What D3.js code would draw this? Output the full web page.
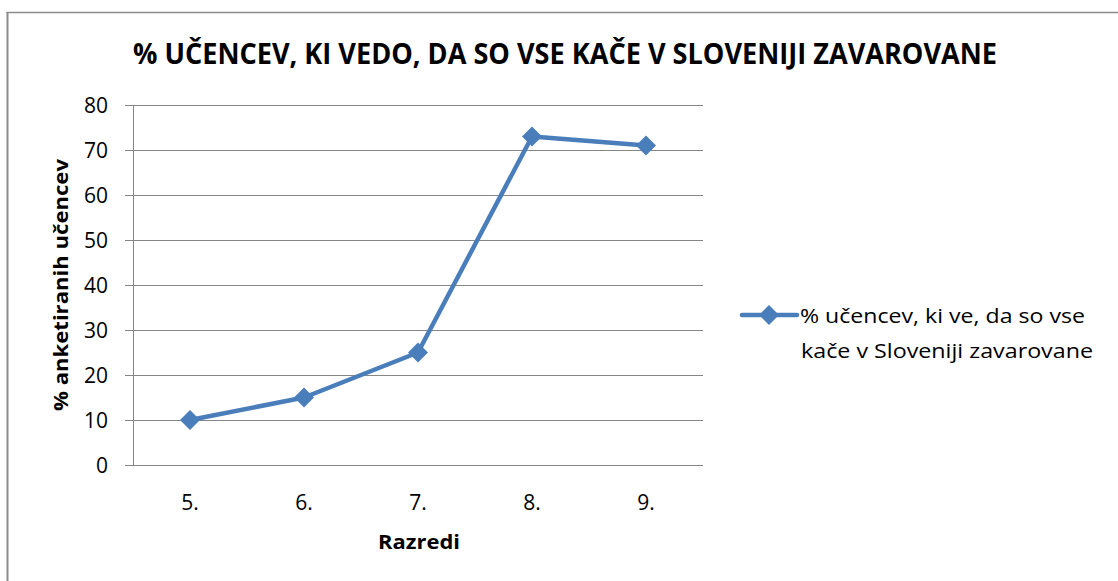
<!DOCTYPE html>
<html><head><meta charset="utf-8">
<script src="https://cdn.jsdelivr.net/npm/d3@7"></script>
<style>body{margin:0;background:#fff}svg{display:block}text{font-family:"Open Sans","Noto Sans",sans-serif}</style>
</head><body>
<script>
const categories = ["5.", "6.", "7.", "8.", "9."];
const values = [10, 15, 25, 73, 71];
const yTicks = [0, 10, 20, 30, 40, 50, 60, 70, 80];
const seriesName = ["% učencev, ki ve, da so vse", "kače v Sloveniji zavarovane"];
const title = "% UČENCEV, KI VEDO, DA SO VSE KAČE V SLOVENIJI ZAVAROVANE";
const xTitle = "Razredi";
const yTitle = "% anketiranih učencev";

const W = 1118, H = 581;
const svg = d3.select("body").append("svg").attr("width", W).attr("height", H);
const blue = "#4a7ebb", grid = "#868686";

// chart frame (left + top visible)
svg.append("line").attr("x1", 7.5).attr("x2", 7.5).attr("y1", 12).attr("y2", H)
  .attr("stroke", "#8c8c8c").attr("stroke-width", 2);
svg.append("line").attr("x1", 6.5).attr("x2", W).attr("y1", 12.5).attr("y2", 12.5)
  .attr("stroke", "#8c8c8c").attr("stroke-width", 1.5);

const x = d3.scalePoint().domain(categories).range([133, 703]).padding(0.5);
const y = d3.scaleLinear().domain([0, 80]).range([465, 105]);

// gridlines
svg.append("g").selectAll("line").data(yTicks).join("line")
  .attr("x1", 125).attr("x2", 703)
  .attr("y1", d => Math.round(y(d)) + 0.5).attr("y2", d => Math.round(y(d)) + 0.5)
  .attr("stroke", grid).attr("stroke-width", 1);
// y axis line
svg.append("line").attr("x1", 133.5).attr("x2", 133.5).attr("y1", 105).attr("y2", 466)
  .attr("stroke", grid).attr("stroke-width", 1);

// y tick labels
svg.append("g").selectAll("text").data(yTicks).join("text")
  .attr("x", 108).attr("y", d => y(d) + 7.5).attr("text-anchor", "end")
  .attr("font-size", 21).attr("fill", "#000").text(d => d);

// x tick labels
svg.append("g").selectAll("text").data(categories).join("text")
  .attr("x", d => x(d)).attr("y", 510).attr("text-anchor", "middle")
  .attr("font-size", 21).attr("fill", "#000").text(d => d);

// title
svg.append("text").attr("x", 565).attr("y", 64).attr("text-anchor", "middle")
  .attr("font-size", 28).attr("font-weight", "bold").attr("textLength", 864)
  .attr("lengthAdjust", "spacingAndGlyphs").text(title);

// axis titles
svg.append("text").attr("x", 419).attr("y", 549).attr("text-anchor", "middle")
  .attr("font-size", 19).attr("font-weight", "bold").attr("textLength", 82)
  .attr("lengthAdjust", "spacingAndGlyphs").text(xTitle);
svg.append("text").attr("transform", "translate(68,285) rotate(-90)").attr("text-anchor", "middle")
  .attr("font-size", 20).attr("font-weight", "bold").attr("textLength", 252)
  .attr("lengthAdjust", "spacingAndGlyphs").text(yTitle);

// series line
const data = categories.map((c, i) => ({c, v: values[i]}));
svg.append("path").datum(data)
  .attr("d", d3.line().x(d => x(d.c)).y(d => y(d.v)))
  .attr("fill", "none").attr("stroke", blue).attr("stroke-width", 4.5).attr("stroke-linejoin", "round");
const diamond = "M0,-10L10,0L0,10L-10,0Z";
svg.append("g").selectAll("path").data(data).join("path")
  .attr("transform", d => `translate(${x(d.c)},${y(d.v)})`)
  .attr("d", diamond).attr("fill", blue);

// legend
svg.append("line").attr("x1", 742).attr("x2", 797).attr("y1", 315).attr("y2", 315)
  .attr("stroke", blue).attr("stroke-width", 4.5).attr("stroke-linecap", "round");
svg.append("path").attr("transform", "translate(769,315)").attr("d", diamond).attr("fill", blue);
svg.append("text").attr("x", 800).attr("y", 323).attr("font-size", 20)
  .attr("textLength", 285).attr("lengthAdjust", "spacingAndGlyphs").text(seriesName[0]);
svg.append("text").attr("x", 801).attr("y", 358).attr("font-size", 20)
  .attr("textLength", 292).attr("lengthAdjust", "spacingAndGlyphs").text(seriesName[1]);
</script>
</body></html>
